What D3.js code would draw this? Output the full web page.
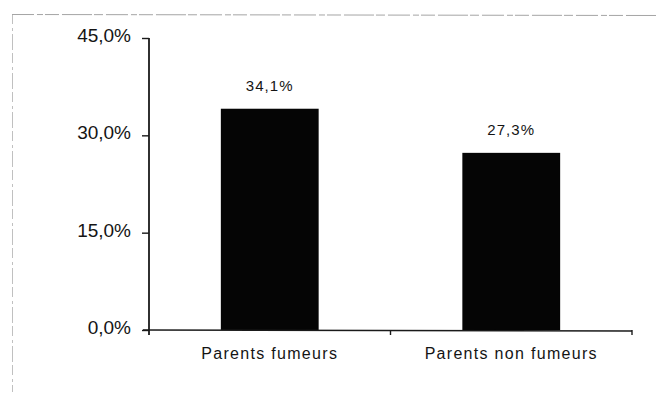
<!DOCTYPE html>
<html>
<head>
<meta charset="utf-8">
<script src="https://cdn.jsdelivr.net/npm/d3@7"></script>
<style>
  html, body { margin: 0; padding: 0; background: #fff; }
  svg { display: block; }
  text { font-family: "Liberation Sans", Arial, sans-serif; fill: #141414; }
</style>
</head>
<body>
<svg id="chart" width="656" height="398"></svg>
<script>
// Share of children by parents' smoking status
const categories = ["Parents fumeurs", "Parents non fumeurs"];
const values = [34.1, 27.3];
const valueLabels = ["34,1%", "27,3%"];
const yTicks = [0, 15, 30, 45];
const yTickLabels = ["0,0%", "15,0%", "30,0%", "45,0%"];

const svg = d3.select("#chart");
const margin = { left: 149, right: 24, top: 38, bottom: 68 };
const W = 656, H = 398;

// light dashed frame around the chart
const frame = svg.append("g").attr("stroke", "#a5a5a5").attr("fill", "none");
frame.append("line").attr("x1", 12).attr("x2", 656).attr("y1", 14.5).attr("y2", 15.5)
  .attr("stroke-width", 1).attr("stroke-dasharray", "22 3 6 2 14 3 30 2 9 3");
frame.append("line").attr("x1", 12.5).attr("x2", 12.5).attr("y1", 14).attr("y2", 392)
  .attr("stroke-width", 0.7).attr("stroke-dasharray", "10 4 3 3 16 3");

const x = d3.scaleBand()
  .domain(categories)
  .range([margin.left, W - margin.right])
  .paddingInner(0.595)
  .paddingOuter(0.2975);

const y = d3.scaleLinear()
  .domain([0, 45])
  .range([H - margin.bottom, margin.top]);

// bars
svg.append("g").selectAll("rect")
  .data(values)
  .join("rect")
  .attr("x", (d, i) => x(categories[i]))
  .attr("width", x.bandwidth())
  .attr("y", d => y(d))
  .attr("height", d => y(0) - y(d))
  .attr("fill", "#050505");

// value labels
svg.append("g").selectAll("text")
  .data(values)
  .join("text")
  .attr("x", (d, i) => x(categories[i]) + x.bandwidth() / 2)
  .attr("y", d => y(d) - 18)
  .attr("text-anchor", "middle")
  .attr("font-size", 15)
  .attr("letter-spacing", 1.1)
  .text((d, i) => valueLabels[i]);

// y axis
const yAxis = d3.axisLeft(y)
  .tickValues(yTicks)
  .tickFormat((d, i) => yTickLabels[i])
  .tickSize(7)
  .tickPadding(11)
  .tickSizeOuter(0);
const gy = svg.append("g")
  .attr("transform", `translate(${margin.left},0)`)
  .call(yAxis);
gy.select(".domain").remove();
gy.selectAll(".tick line").attr("stroke", "#1a1a1a").attr("stroke-width", 1.4);
gy.selectAll(".tick text")
  .attr("font-size", 19)
  .attr("dy", "0.18em")
  .attr("font-family", "Liberation Sans, Arial, sans-serif")
  .attr("fill", "#141414");
gy.append("line")
  .attr("x1", 0).attr("x2", 0)
  .attr("y1", y(45)).attr("y2", y(0) + 5)
  .attr("stroke", "#1a1a1a").attr("stroke-width", 1.8);

// x axis with ticks at band boundaries
const gx = svg.append("g");
gx.append("line")
  .attr("x1", margin.left - 6).attr("x2", W - margin.right)
  .attr("y1", y(0)).attr("y2", y(0) + 1)
  .attr("stroke", "#1a1a1a").attr("stroke-width", 1.6);
const step = x.step();
const bounds = [x(categories[0]) - x.paddingOuter() * step + step, W - margin.right];
gx.selectAll("line.tk")
  .data(bounds)
  .join("line")
  .attr("class", "tk")
  .attr("x1", d => d).attr("x2", d => d)
  .attr("y1", y(0)).attr("y2", y(0) + 5)
  .attr("stroke", "#1a1a1a").attr("stroke-width", 1.4);

// category labels
gx.selectAll("text")
  .data(categories)
  .join("text")
  .attr("x", d => x(d) + x.bandwidth() / 2)
  .attr("y", y(0) + 29)
  .attr("text-anchor", "middle")
  .attr("font-size", 16)
  .attr("letter-spacing", 1.3)
  .text(d => d);
</script>
</body>
</html>
